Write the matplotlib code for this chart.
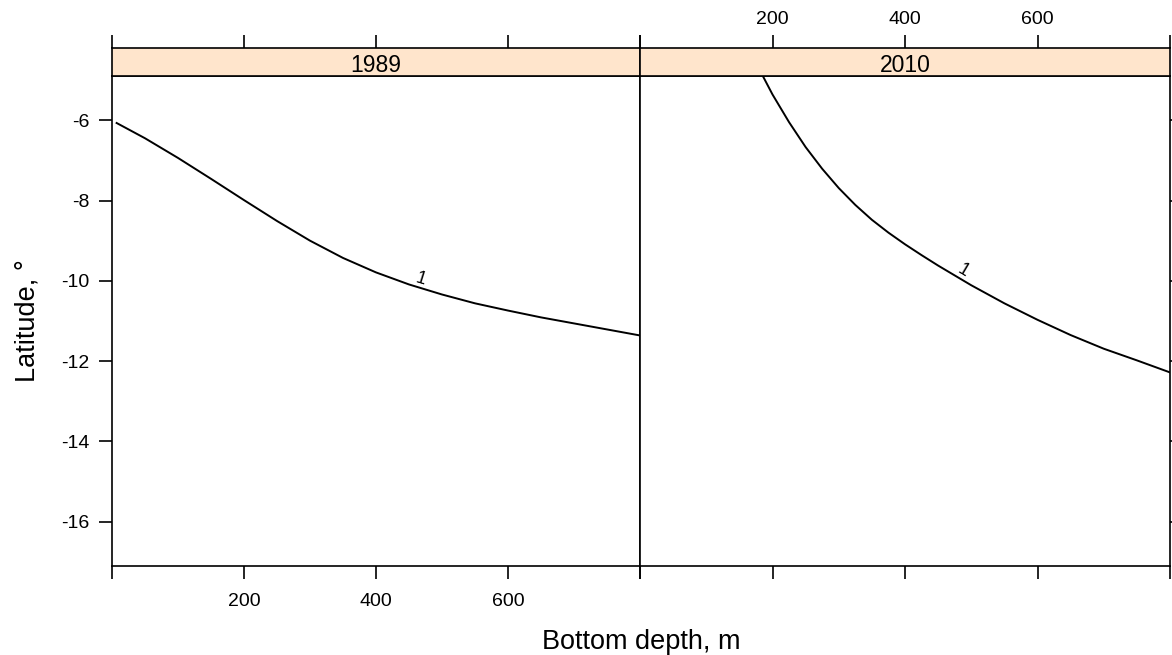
import numpy as np
import matplotlib
matplotlib.use("Agg")
import matplotlib.pyplot as plt

plt.rcParams['font.family'] = ['Liberation Sans', 'DejaVu Sans']
plt.rcParams['axes.unicode_minus'] = False

# ---- data ----
panels = ["1989", "2010"]
depth_1989 = [7, 50, 100, 150, 200, 250, 300, 350, 400, 450, 500, 550, 600, 650, 700, 750, 800]
lat_1989 = [-6.07, -6.45, -6.94, -7.46, -7.99, -8.51, -9.00, -9.43, -9.79, -10.09, -10.34,
            -10.56, -10.74, -10.91, -11.06, -11.21, -11.36]
depth_2010 = [180, 200, 225, 250, 275, 300, 325, 350, 375, 400, 425, 450, 500, 550, 600,
              650, 700, 750, 800]
lat_2010 = [-4.73, -5.36, -6.05, -6.67, -7.21, -7.69, -8.11, -8.48, -8.80, -9.09, -9.36,
            -9.62, -10.11, -10.56, -10.97, -11.35, -11.69, -11.98, -12.28]
contour_level = "1"
label_depth = [464, 482]
xticks = [0, 200, 400, 600, 800]
xticklabels = ["", "200", "400", "600", ""]
yticks = [-16, -14, -12, -10, -8, -6]
yticklabels = ["-16", "-14", "-12", "-10", "-8", "-6"]
xlim = (0, 800)
ylim = (-17.1, -4.9)

W, H = 1172, 655
fig = plt.figure(figsize=(W / 100, H / 100), dpi=100)

px_l = [112, 640]
px_r = [640, 1170]
top_px, bot_px = 76, 566
strip_top_px = 47.7

lw_axis = 1.2
tick_len = 9.4
tick_fs = 14

series = [(depth_1989, lat_1989), (depth_2010, lat_2010)]

for i, name in enumerate(panels):
    left = px_l[i] / W
    width = (px_r[i] - px_l[i]) / W
    bottom = 1 - bot_px / H
    height = (bot_px - top_px) / H
    ax = fig.add_axes([left, bottom, width, height])
    d, lat = series[i]
    ax.plot(d, lat, color="black", lw=1.4, solid_joinstyle="round")
    ax.set_xlim(*xlim)
    ax.set_ylim(*ylim)
    ax.set_xticks(xticks)
    ax.set_yticks(yticks)
    for s in ax.spines.values():
        s.set_linewidth(lw_axis)
        s.set_color("black")
    if i == 0:
        ax.set_xticklabels(xticklabels, fontsize=tick_fs)
        ax.set_yticklabels(yticklabels, fontsize=tick_fs)
        ax.tick_params(axis="y", left=True, right=False, labelleft=True)
    else:
        ax.set_xticklabels([""] * len(xticks))
        ax.set_yticklabels([""] * len(yticks))
        ax.tick_params(axis="y", left=False, right=True, labelleft=False, labelright=False)
    ax.tick_params(direction="out", length=tick_len, width=lw_axis, colors="black")
    ax.tick_params(axis="y", pad=7)
    ax.tick_params(axis="x", top=False, bottom=True, pad=10)

    # contour label
    ld = label_depth[i]
    ll = float(np.interp(ld, d, lat))
    p1 = ax.transData.transform((ld - 20, np.interp(ld - 20, d, lat)))
    p2 = ax.transData.transform((ld + 20, np.interp(ld + 20, d, lat)))
    ang = np.degrees(np.arctan2(p2[1] - p1[1], p2[0] - p1[0]))
    ax.text(ld, ll, contour_level, fontsize=13, rotation=ang, rotation_mode="anchor",
            ha="center", va="bottom", color="black")

    # strip
    sb = 1 - top_px / H
    sh = (top_px - strip_top_px) / H
    sax = fig.add_axes([left, sb, width, sh], facecolor="#FFE5CC")
    sax.set_xlim(*xlim)
    sax.set_ylim(0, 1)
    sax.set_yticks([])
    sax.set_xticks(xticks)
    sax.tick_params(axis="x", bottom=False, top=True, labelbottom=False,
                    labeltop=(i == 1), direction="out", length=tick_len,
                    width=lw_axis, colors="black", labelsize=tick_fs, pad=4.5)
    if i == 1:
        sax.set_xticklabels(xticklabels)
    for s in sax.spines.values():
        s.set_linewidth(lw_axis)
        s.set_color("black")
    sax.text(0.5, 0.36, name, transform=sax.transAxes, ha="center", va="center",
             fontsize=16.5, color="black")

fig.text(641 / W, 1 - 649.3 / H, "Bottom depth, m", ha="center", va="baseline", fontsize=19.5)
fig.text(27.5 / W, 1 - 321 / H, "Latitude, °", ha="center", va="center", rotation=90, fontsize=19.5)

fig.savefig("out.png", dpi=100)
